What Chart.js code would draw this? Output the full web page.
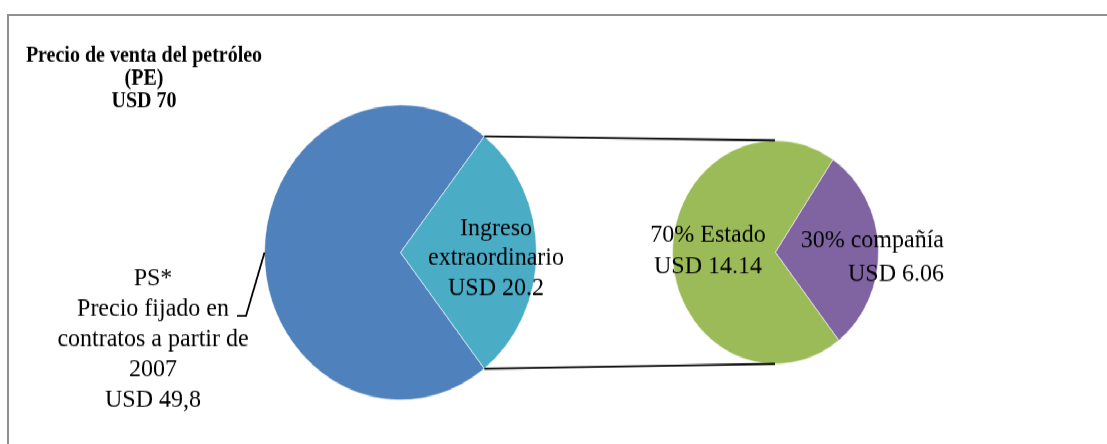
<!DOCTYPE html>
<html>
<head>
<meta charset="utf-8">
<script src="https://cdn.jsdelivr.net/npm/chart.js@4"></script>
<style>
  html, body { margin: 0; padding: 0; background: #fff; overflow: hidden; }
  body { width: 1107px; height: 444px; position: relative; }
  #frame {
    position: absolute; left: 7px; top: 14px; width: 1200px; height: 500px;
    border-top: 2px solid #8f8f8f; border-left: 2px solid #8f8f8f;
  }
  /* the whole drawing is stretched a little vertically, like the sheet it came from */
  #stage {
    position: absolute; left: 0; top: 0; width: 1107px; height: 409px;
    transform: scaleY(1.085); transform-origin: 0 0;
  }
  #stage > div { position: absolute; }
  #mainBox { left: 0; top: 0; width: 1107px; height: 409px; }
  #subBox { left: 671.5px; top: 128.9px; width: 207px; height: 207px; }
</style>
</head>
<body>
<div id="frame"></div>
<div id="stage">
  <div id="subBox"><canvas id="subChart"></canvas></div>
  <div id="mainBox"><canvas id="mainChart"></canvas></div>
</div>
<script>
// oil price split (USD per barrel)
const totalPrice  = 70;
const mainLabels  = ['PS*', 'Ingreso extraordinario'];
const mainValues  = [49.8, 20.2];
const subLabels   = ['70% Estado', '30% compañía'];
const subValues   = [14.14, 6.06];

const MAIN_COLORS = ['#4F81BD', '#4BACC6'];
const SUB_COLORS  = ['#9BBB59', '#8064A2'];
const SUB_BOX = { left: 671.5, top: 128.9 };
const SERIF = '"Liberation Serif", "Times New Roman", serif';

// text blocks
const titleLines   = ['Precio de venta del petróleo', '(PE)', 'USD ' + totalPrice];
const psLines      = ['PS*', 'Precio fijado en', 'contratos a partir de', '2007',
                      'USD ' + String(mainValues[0]).replace('.', ',')];
const extraLines   = ['Ingreso', 'extraordinario', 'USD ' + mainValues[1]];
const stateLines   = [subLabels[0], 'USD ' + subValues[0].toFixed(2)];
const companyLines = [subLabels[1], 'USD ' + subValues[1].toFixed(2)];

// rotate so the last slice is centred on the right-hand side
function rotationFor(values, tilt) {
  const sum = values.reduce((a, b) => a + b, 0);
  const last = values[values.length - 1] / sum * 360;
  return 90 - last / 2 - (360 - last) + (tilt || 0);
}

const pieOptions = (rotation, padding) => ({
  responsive: true,
  maintainAspectRatio: false,
  animation: false,
  events: [],
  rotation: rotation,
  layout: { padding: padding },
  plugins: { legend: { display: false }, tooltip: { enabled: false } },
});

const subChart = new Chart(document.getElementById('subChart'), {
  type: 'pie',
  data: {
    labels: subLabels,
    datasets: [{
      data: subValues,
      backgroundColor: SUB_COLORS,
      borderColor: 'rgba(255,255,255,0.6)',
      borderWidth: 1,
    }],
  },
  options: pieOptions(rotationFor(subValues, -2), 0),
});

function drawLines(ctx, lines, x, y0, step, align) {
  ctx.textAlign = align || 'center';
  lines.forEach((t, i) => ctx.fillText(t, x, y0 + i * step));
}

// connectors between the two pies, leader line and all the text
const overlay = {
  id: 'overlay',
  afterDraw(chart) {
    const ctx = chart.ctx;
    const big = chart.getDatasetMeta(0).data;
    const small = subChart.getDatasetMeta(0).data;
    const extra = big[1];
    const sx = small[0].x + SUB_BOX.left;
    const sy = small[0].y + SUB_BOX.top;
    const sr = small[0].outerRadius;

    ctx.save();
    ctx.strokeStyle = '#000';
    ctx.lineWidth = 1.8;
    ctx.beginPath();
    ctx.moveTo(extra.x + extra.outerRadius * Math.cos(extra.startAngle),
               extra.y + extra.outerRadius * Math.sin(extra.startAngle));
    ctx.lineTo(sx, sy - sr);
    ctx.moveTo(extra.x + extra.outerRadius * Math.cos(extra.endAngle),
               extra.y + extra.outerRadius * Math.sin(extra.endAngle));
    ctx.lineTo(sx, sy + sr);

    // leader from the PS* label to the middle of its slice
    const ps = big[0];
    const mid = (ps.startAngle + ps.endAngle) / 2;
    ctx.moveTo(ps.x + ps.outerRadius * Math.cos(mid), ps.y + ps.outerRadius * Math.sin(mid));
    ctx.lineTo(246, 291.2);
    ctx.lineTo(237, 291.2);
    ctx.stroke();

    ctx.fillStyle = '#000';
    ctx.textBaseline = 'alphabetic';
    ctx.font = 'bold 20px ' + SERIF;
    drawLines(ctx, titleLines, 144, 57.1, 20.8);

    ctx.font = '24px ' + SERIF;
    drawLines(ctx, psLines, 153, 262.7, 28.1);
    drawLines(ctx, extraLines, 496, 216.6, 27.6);
    drawLines(ctx, stateLines, 708, 223.0, 29.0);
    drawLines(ctx, companyLines, 944, 227.6, 31.0, 'right');
    ctx.restore();
  },
};

new Chart(document.getElementById('mainChart'), {
  type: 'pie',
  data: {
    labels: mainLabels,
    datasets: [{
      data: mainValues,
      backgroundColor: MAIN_COLORS,
      borderColor: 'rgba(255,255,255,0.6)',
      borderWidth: 1,
    }],
  },
  options: pieOptions(rotationFor(mainValues), { left: 264, top: 96.2, right: 570, bottom: 39.8 }),
  plugins: [overlay],
});
</script>
</body>
</html>
